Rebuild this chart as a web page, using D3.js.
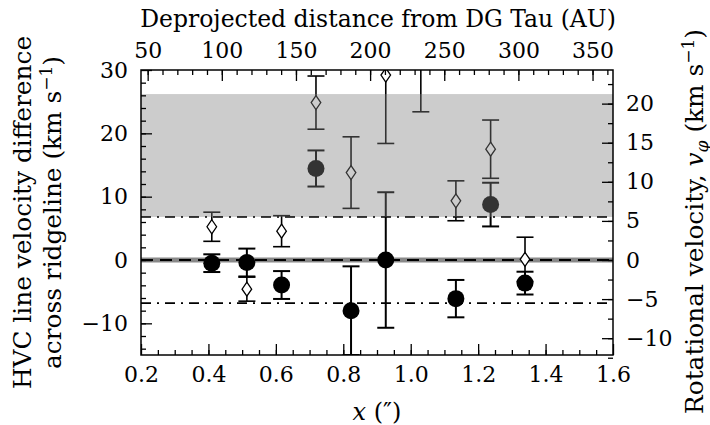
<!DOCTYPE html>
<html lang="en">
<head>
<meta charset="UTF-8">
<title>HVC velocity difference</title>
<script src="https://cdn.jsdelivr.net/npm/d3@7"></script>
<style>
  body { margin: 0; background: #fff; }
  text { font-family: "DejaVu Serif", serif; }
</style>
</head>
<body>
<svg id="svg"></svg>
<script>
var WIDTH = 710, HEIGHT = 425;
var LEFT = 141, RIGHT = 613, TOP = 70, BOTTOM = 355;

// filled circles: line velocity difference (km/s)
var circX = [0.41, 0.514, 0.617, 0.719, 0.823, 0.926, 1.134, 1.237, 1.339];
var circY = [-0.5, -0.4, -3.95, 14.45, -8.0, 0.0, -6.1, 8.75, -3.65];
var circErr = [1.4, 2.2, 2.2, 2.85, 7.0, 10.7, 2.95, 3.45, 1.8];

// open diamonds
var diamX = [0.41, 0.514, 0.617, 0.719, 0.823, 0.926, 1.03, 1.134, 1.237, 1.339];
var diamY = [5.25, -4.6, 4.55, 24.85, 13.8, 29.2, 35.0, 9.35, 17.5, 0.1];
var diamErr = [2.3, 1.9, 2.45, 4.2, 5.65, 10.8, 11.6, 3.15, 4.6, 3.5];

var band = [6.8, 26.2];
var limits = [-6.8, 6.8];

var xTicks = [0.2, 0.4, 0.6, 0.8, 1.0, 1.2, 1.4, 1.6];
var yTicks = [-10, 0, 10, 20, 30];
var auTicks = [50, 100, 150, 200, 250, 300, 350];
var rotTicks = [-10, -5, 0, 5, 10, 15, 20];

var xScale = d3.scaleLinear().domain([0.2, 1.6]).range([LEFT, RIGHT]);
var yScale = d3.scaleLinear().domain([-15, 30]).range([BOTTOM, TOP]);
var auScale = d3.scaleLinear().domain([45.5, 363.8]).range([LEFT, RIGHT]);
var rotScale = d3.scaleLinear().domain([-15 * 0.81, 30 * 0.81]).range([BOTTOM, TOP]);

var svg = d3.select("#svg").attr("width", WIDTH).attr("height", HEIGHT);

svg.append("clipPath").attr("id", "plotArea")
   .append("rect")
   .attr("x", LEFT).attr("y", TOP)
   .attr("width", RIGHT - LEFT).attr("height", BOTTOM - TOP);

var plot = svg.append("g").attr("clip-path", "url(#plotArea)");

// zero line: grey thick + black dashes
plot.append("line")
    .attr("x1", LEFT).attr("x2", RIGHT)
    .attr("y1", yScale(0)).attr("y2", yScale(0))
    .attr("stroke", "#888").attr("stroke-width", 5);
plot.append("line")
    .attr("x1", LEFT).attr("x2", RIGHT)
    .attr("y1", yScale(0)).attr("y2", yScale(0))
    .attr("stroke", "#000").attr("stroke-width", 2)
    .attr("stroke-dasharray", "12,7");

// dash-dot limits
plot.selectAll(".lim")
    .data(limits)
    .enter()
    .append("line")
    .attr("class", "lim")
    .attr("x1", LEFT).attr("x2", RIGHT)
    .attr("y1", function(d){ return yScale(d); })
    .attr("y2", function(d){ return yScale(d); })
    .attr("stroke", "#000").attr("stroke-width", 1.8)
    .attr("stroke-dasharray", "10,6,2,6");

// error bars
function errorBars(xs, ys, es, cls, width, cap){
    var g = plot.append("g").attr("class", cls);
    var d = xs.map(function(x, i){ return {x: x, y: ys[i], e: es[i]}; });
    g.selectAll("line.v").data(d).enter().append("line")
     .attr("class", "v")
     .attr("x1", function(p){ return xScale(p.x); })
     .attr("x2", function(p){ return xScale(p.x); })
     .attr("y1", function(p){ return yScale(p.y - p.e); })
     .attr("y2", function(p){ return yScale(p.y + p.e); })
     .attr("stroke", "#000").attr("stroke-width", width);
    [-1, 1].forEach(function(s){
        g.selectAll("line.c" + (s + 1)).data(d).enter().append("line")
         .attr("class", "c" + (s + 1))
         .attr("x1", function(p){ return xScale(p.x) - cap; })
         .attr("x2", function(p){ return xScale(p.x) + cap; })
         .attr("y1", function(p){ return yScale(p.y + s * p.e); })
         .attr("y2", function(p){ return yScale(p.y + s * p.e); })
         .attr("stroke", "#000").attr("stroke-width", width);
    });
    return d;
}

var dd = errorBars(diamX, diamY, diamErr, "diam", 1.6, 8.5);
var cd = errorBars(circX, circY, circErr, "circ", 2, 8.5);

plot.append("g").selectAll("path").data(dd).enter().append("path")
    .attr("d", function(p){
        var x = xScale(p.x), y = yScale(p.y);
        return "M" + x + "," + (y - 7) + "L" + (x + 4.8) + "," + y +
               "L" + x + "," + (y + 7) + "L" + (x - 4.8) + "," + y + "Z";
    })
    .attr("fill", "#fff").attr("stroke", "#000").attr("stroke-width", 1.3);

plot.append("g").selectAll("circle").data(cd).enter().append("circle")
    .attr("cx", function(p){ return xScale(p.x); })
    .attr("cy", function(p){ return yScale(p.y); })
    .attr("r", 8.5)
    .attr("fill", "#000");

// shaded band drawn over the data
plot.append("rect")
    .attr("x", LEFT).attr("width", RIGHT - LEFT)
    .attr("y", yScale(band[1]))
    .attr("height", yScale(band[0]) - yScale(band[1]))
    .attr("fill", "#808080").attr("fill-opacity", 0.4);

// axes (ticks pointing inward)
function addAxis(axisFn, scale, major, minor, transform, fmt, pad){
    var g = svg.append("g").attr("transform", transform);
    g.call(axisFn(scale).tickValues(minor).tickSize(-5).tickSizeOuter(0).tickFormat(""));
    g.append("g").call(axisFn(scale).tickValues(major).tickSize(-11)
        .tickSizeOuter(0).tickPadding(pad).tickFormat(fmt));
    g.selectAll(".domain").remove();
    g.selectAll("line").attr("stroke", "#000").attr("stroke-width", 1.3);
    g.selectAll("text").attr("font-family", "DejaVu Serif").attr("font-size", 22).attr("fill", "#000");
    return g;
}
var minus = function(d){ return d < 0 ? "\u2212" + Math.abs(d) : "" + d; };

addAxis(d3.axisBottom, xScale, xTicks, d3.range(0.25, 1.6, 0.05),
        "translate(0," + BOTTOM + ")", d3.format(".1f"), 11);
addAxis(d3.axisTop, auScale, auTicks, d3.range(50, 361, 10),
        "translate(0," + TOP + ")", d3.format("d"), 12);
addAxis(d3.axisLeft, yScale, yTicks, d3.range(-14, 30, 2),
        "translate(" + LEFT + ",0)", minus, 13);
addAxis(d3.axisRight, rotScale, rotTicks, d3.range(-12.5, 24, 2.5),
        "translate(" + RIGHT + ",0)", minus, 13);

svg.append("rect")
   .attr("x", LEFT).attr("y", TOP)
   .attr("width", RIGHT - LEFT).attr("height", BOTTOM - TOP)
   .attr("fill", "none").attr("stroke", "#000").attr("stroke-width", 1.5);

// labels
svg.append("text")
   .attr("x", (LEFT + RIGHT) / 2 + 1).attr("y", 27)
   .attr("text-anchor", "middle").attr("font-size", 23.5)
   .text("Deprojected distance from DG Tau (AU)");

var xl = svg.append("text")
   .attr("x", (LEFT + RIGHT) / 2).attr("y", 420)
   .attr("text-anchor", "middle").attr("font-size", 24);
xl.append("tspan").attr("font-style", "italic").text("x");
xl.append("tspan").text(" (\u2033)");

var cy = (TOP + BOTTOM) / 2;
var yl = svg.append("text")
   .attr("transform", "translate(0," + cy + ") rotate(-90)")
   .attr("text-anchor", "middle").attr("font-size", 24.8);
yl.append("tspan").attr("x", 0).attr("y", 31).text("HVC line velocity difference");
var l2 = yl.append("tspan").attr("x", 0).attr("y", 61);
l2.append("tspan").text("across ridgeline (km s");
l2.append("tspan").attr("dy", -9).attr("font-size", 17).text("\u22121");
l2.append("tspan").attr("dy", 9).text(")");

var rl = svg.append("text")
   .attr("transform", "translate(703," + (cy + 9) + ") rotate(-90)")
   .attr("text-anchor", "middle").attr("font-size", 24.8);
rl.append("tspan").text("Rotational velocity, ");
rl.append("tspan").attr("font-style", "italic").text("v");
rl.append("tspan").attr("font-style", "italic").attr("font-size", 17).attr("dy", 5).text("\u03c6");
rl.append("tspan").attr("dy", -5).text(" (km s");
rl.append("tspan").attr("dy", -9).attr("font-size", 17).text("\u22121");
rl.append("tspan").attr("dy", 9).text(")");
</script>
</body>
</html>
